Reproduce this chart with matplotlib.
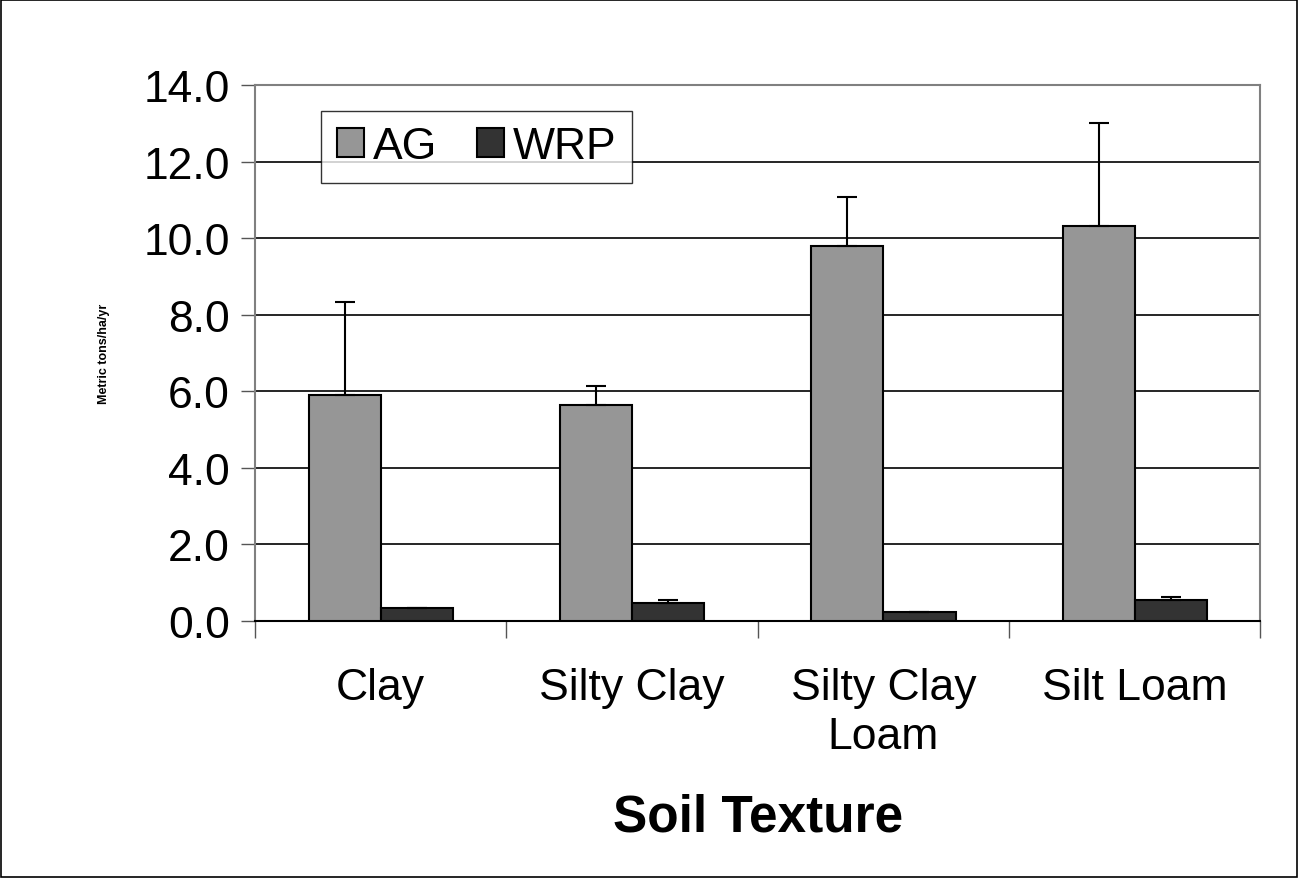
import numpy as np
import matplotlib
matplotlib.use('Agg')
import matplotlib.pyplot as plt
from matplotlib.patches import Rectangle

plt.rcParams['font.family'] = ['Liberation Sans', 'DejaVu Sans']

categories = ["Clay", "Silty Clay", "Silty Clay\nLoam", "Silt Loam"]
ag = [5.89, 5.65, 9.79, 10.31]
ag_err = [2.43, 0.50, 1.29, 2.70]
wrp = [0.34, 0.47, 0.23, 0.56]
wrp_err = [0.01, 0.07, 0.01, 0.07]
yticks = [0, 2, 4, 6, 8, 10, 12, 14]

fig = plt.figure(figsize=(12.98, 8.79), dpi=100)
ax = fig.add_axes([0.1965, 0.2924, 0.7745, 0.6098])

x = np.arange(len(categories))
w = 0.287
ax.bar(x - w/2, ag, w, color='#969696', edgecolor='black', linewidth=1.5,
       label='AG', zorder=3)
ax.bar(x + w/2, wrp, w, color='#333333', edgecolor='black', linewidth=1.5,
       label='WRP', zorder=3)
ax.errorbar(x - w/2, ag, yerr=[np.zeros(4), ag_err], fmt='none', ecolor='black',
            elinewidth=1.5, capsize=7, capthick=1.5, zorder=4)
ax.errorbar(x + w/2, wrp, yerr=[np.zeros(4), wrp_err], fmt='none', ecolor='black',
            elinewidth=1.5, capsize=7, capthick=1.5, zorder=4)

ax.set_xlim(-0.5, 3.5)
ax.set_ylim(0, 14)
ax.set_yticks(yticks)
ax.set_yticklabels([f"{v:.1f}" for v in yticks], fontsize=32)
ax.yaxis.grid(True, color='black', linewidth=1.2, zorder=0)
ax.set_axisbelow(True)

ax.set_xticks(np.arange(-0.5, 4, 1))
ax.set_xticklabels([])
ax.set_xticks(x, minor=True)
ax.set_xticklabels(categories, minor=True, fontsize=32, linespacing=1.25)
ax.tick_params(axis='x', which='major', length=12, width=1, color='#555555')
ax.tick_params(axis='x', which='minor', length=0, pad=33)
ax.tick_params(axis='y', length=10, width=1, color='#555555', pad=8)

for s in ['left', 'top', 'right']:
    ax.spines[s].set_color('#808080')
    ax.spines[s].set_linewidth(1.5)
ax.spines['bottom'].set_color('black')
ax.spines['bottom'].set_linewidth(1.5)

ax.set_xlabel("Soil Texture", fontsize=37, fontweight='bold', labelpad=26)
ax.set_ylabel("Metric tons/ha/yr", fontsize=9, fontweight='bold', labelpad=24)

leg = ax.legend(loc='upper left', bbox_to_anchor=(0.066, 0.952), ncol=2,
                fontsize=32, frameon=True, fancybox=False, handlelength=0.6,
                handleheight=0.6, handletextpad=0.2, columnspacing=0.9,
                borderpad=0.35, borderaxespad=0)
leg.get_frame().set_edgecolor('black')
leg.get_frame().set_linewidth(1.0)

fig.patches.append(Rectangle((0.0008, 0.001), 0.9984, 0.998, transform=fig.transFigure,
                             fill=False, edgecolor='black', linewidth=1.2))

fig.savefig('out.png', dpi=100)
